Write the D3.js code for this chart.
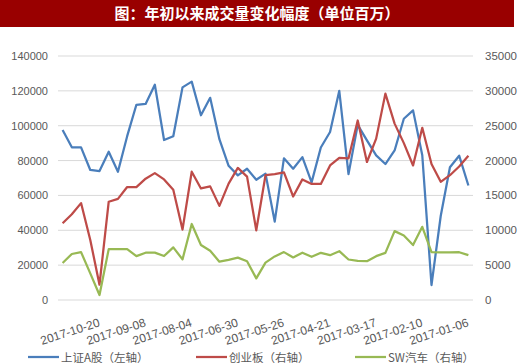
<!DOCTYPE html>
<html>
<head>
<meta charset="utf-8">
<script src="https://cdn.jsdelivr.net/npm/d3@7"></script>
<style>
  body { margin: 0; background: #fff; }
  svg { display: block; }
</style>
</head>
<body>
<svg id="chart" width="520" height="364"></svg>
<script>
// weekly dates, newest first (national day week has no trading)
const dates = [
  '2017-11-17','2017-11-10','2017-11-03','2017-10-27','2017-10-20','2017-10-13','2017-09-29','2017-09-22','2017-09-15',
  '2017-09-08','2017-09-01','2017-08-25','2017-08-18','2017-08-11','2017-08-04','2017-07-28','2017-07-21','2017-07-14',
  '2017-07-07','2017-06-30','2017-06-23','2017-06-16','2017-06-09','2017-06-02','2017-05-26','2017-05-19','2017-05-12',
  '2017-05-05','2017-04-28','2017-04-21','2017-04-14','2017-04-07','2017-03-31','2017-03-24','2017-03-17','2017-03-10',
  '2017-03-03','2017-02-24','2017-02-17','2017-02-10','2017-02-03','2017-01-26','2017-01-20','2017-01-13','2017-01-06'
];
const shanghaiA = [
  97500, 87600, 87600, 74600, 74000, 85100, 73600, 94000, 112000,
  112500, 123500, 91800, 94000, 122000, 125300, 106000, 116000, 92300,
  77000, 71500, 75300, 69000, 72500, 45000, 81300, 75300, 82000,
  67500, 87500, 96400, 120000, 72200, 100500, 91600, 83000, 78000,
  85800, 104000, 108800, 83000, 8600, 48200, 76200, 82800, 65700
];
const chinext = [
  11000, 12300, 13900, 8600, 2200, 14100, 14500, 16200, 16200,
  17400, 18200, 17300, 15800, 10100, 18400, 16000, 16300, 13500,
  16700, 18950, 17700, 10000, 17900, 18050, 18300, 14850, 17300,
  16650, 16650, 19300, 20400, 20300, 25750, 19800, 23150, 29600,
  25300, 22500, 19300, 24700, 19500, 16950, 17900, 19150, 20700
];
const swAuto = [
  5300, 6600, 6870, 3820, 720, 7300, 7300, 7300, 6300,
  6780, 6790, 6310, 7550, 5830, 10900, 7900, 7070, 5500,
  5760, 6080, 5560, 3100, 5370, 6250, 6870, 6110, 6780,
  6200, 6770, 6430, 7000, 5810, 5620, 5570, 6290, 6760,
  9880, 9260, 7880, 10500, 6870, 6820, 6820, 6850, 6430
];
const leftTicks = [0, 20000, 40000, 60000, 80000, 100000, 120000, 140000];
const rightTicks = [0, 5000, 10000, 15000, 20000, 25000, 30000, 35000];
const labelEvery = 5, labelOffset = 4;

const title = '图：年初以来成交量变化幅度（单位百万）';
const seriesNames = ['上证A股（左轴）', '创业板（右轴）', 'SW汽车（右轴）'];
const colors = ['#4a7ebb', '#be4b48', '#98b954'];

const svg = d3.select('#chart');
const m = {left: 58, right: 47, top: 56, bottom: 64};
const W = 520, H = 364;

// title bar
svg.append('rect').attr('x', 0).attr('y', 0).attr('width', 514).attr('height', 27).attr('fill', '#990000');
svg.append('text')
  .attr('x', 257).attr('y', 19)
  .attr('text-anchor', 'middle')
  .attr('fill', '#fff')
  .attr('font-family', '"Noto Sans CJK SC", sans-serif')
  .attr('font-size', 15)
  .attr('font-weight', 'bold')
  .text(title);

var x = d3.scaleBand().domain(dates).range([m.left, W - m.right]);
var yL = d3.scaleLinear().domain([0, 140000]).range([H - m.bottom, m.top]);
var yR = d3.scaleLinear().domain([0, 35000]).range([H - m.bottom, m.top]);

// gridlines
svg.append('g').selectAll('line').data(leftTicks).enter().append('line')
  .attr('x1', m.left).attr('x2', W - m.right)
  .attr('y1', d => yL(d)).attr('y2', d => yL(d))
  .attr('stroke', '#d9d9d9').attr('stroke-width', 1);

var tickFont = '"Liberation Sans", Arial, sans-serif';

svg.append('g').selectAll('text').data(leftTicks).enter().append('text')
  .attr('x', 48).attr('y', d => yL(d) + 4)
  .attr('text-anchor', 'end')
  .attr('font-family', tickFont).attr('font-size', 11).attr('fill', '#595959')
  .text(d => d);

svg.append('g').selectAll('text').data(rightTicks).enter().append('text')
  .attr('x', 485).attr('y', d => yR(d) + 4)
  .attr('text-anchor', 'start')
  .attr('font-family', tickFont).attr('font-size', 11.5).attr('fill', '#595959')
  .text(d => d);

// category labels, rotated
var xLabels = dates.filter((d, i) => i % labelEvery === labelOffset);
svg.append('g').selectAll('text').data(xLabels).enter().append('text')
  .attr('transform', d => 'translate(' + (x(d) + x.bandwidth() / 2 + 1) + ',' + 326 + ') rotate(-18)')
  .attr('text-anchor', 'end')
  .attr('font-family', tickFont).attr('font-size', 12).attr('fill', '#595959')
  .text(d => d);

// lines
var cx = d => x(d) + x.bandwidth() / 2;
[[shanghaiA, yL], [chinext, yR], [swAuto, yR]].forEach(function(s, k) {
  var line = d3.line().x((v, i) => cx(dates[i])).y(v => s[1](v));
  svg.append('path').datum(s[0])
    .attr('d', line)
    .attr('fill', 'none')
    .attr('stroke', colors[k])
    .attr('stroke-width', 2.25)
    .attr('stroke-linejoin', 'round');
});

// legend
var legendX = [28, 196, 355];
var lg = svg.append('g').selectAll('g').data(seriesNames).enter().append('g')
  .attr('transform', (d, i) => 'translate(' + legendX[i] + ',357)');
lg.append('line').attr('x1', 0).attr('x2', 31).attr('y1', 0).attr('y2', 0)
  .attr('stroke', (d, i) => colors[i]).attr('stroke-width', 2.25);
lg.append('text').attr('x', 33).attr('y', 4.5)
  .attr('font-family', '"Noto Sans CJK SC", sans-serif').attr('font-size', 11.5).attr('fill', '#595959')
  .text(d => d);
</script>
</body>
</html>
